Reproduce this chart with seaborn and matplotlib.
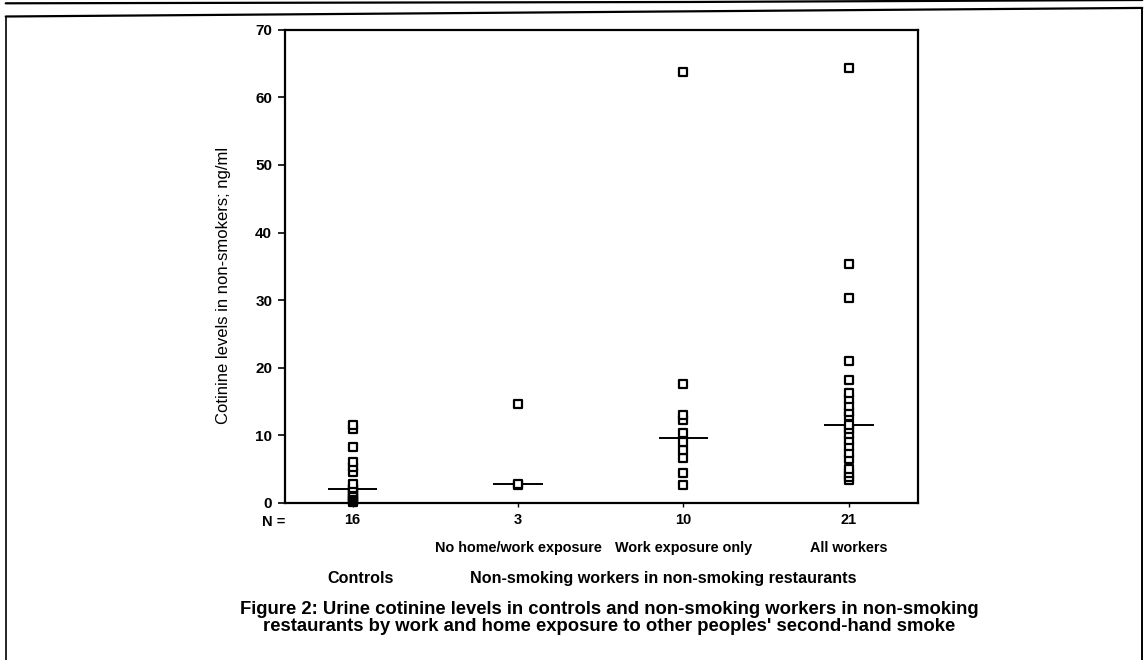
import numpy as np
import pandas as pd
import matplotlib
matplotlib.use("Agg")
import matplotlib.pyplot as plt
from matplotlib.lines import Line2D
import seaborn as sns

# ---- data ----
categories = ["Controls", "No home/work exposure", "Work exposure only", "All workers"]
controls = [0.1, 0.3, 0.5, 0.8, 1.0, 1.3, 1.6, 2.0, 2.2, 2.8, 4.6, 5.3, 6.0, 8.3, 11.0, 11.6]
no_home_work = [2.6, 2.8, 14.6]
work_only = [2.6, 4.4, 6.6, 7.8, 9.0, 10.3, 12.2, 13.0, 17.6, 63.8]
all_workers = [3.4, 3.9, 4.4, 5.0, 6.5, 7.4, 8.4, 9.3, 10.2, 11.0, 11.5, 12.8, 13.5,
               14.4, 15.3, 16.2, 18.2, 21.0, 30.3, 35.3, 64.3]
y_ticks = [0, 10, 20, 30, 40, 50, 60, 70]
y_label = "Cotinine levels in non-smokers; ng/ml"
group_labels = ["Controls", "Non-smoking workers in non-smoking restaurants"]
caption = ("Figure 2: Urine cotinine levels in controls and non-smoking workers in non-smoking\n"
           "restaurants by work and home exposure to other peoples' second-hand smoke")

series = [controls, no_home_work, work_only, all_workers]
df = pd.DataFrame({
    "group": np.concatenate([[c] * len(v) for c, v in zip(categories, series)]),
    "value": np.concatenate(series),
})
n_labels = [str(len(v)) for v in series]

sns.set_theme(style="white")
plt.rcParams["font.family"] = ["Liberation Sans", "DejaVu Sans"]
plt.rcParams["text.color"] = "black"
plt.rcParams["axes.labelcolor"] = "black"
plt.rcParams["xtick.color"] = "black"
plt.rcParams["ytick.color"] = "black"

fig = plt.figure(figsize=(11.48, 6.60), dpi=100)
ax = fig.add_axes([0.248, 0.238, 0.552, 0.717])

sns.boxplot(data=df, x="group", y="value", order=categories, width=0.3,
            showbox=False, showcaps=False, showfliers=False,
            whiskerprops={"visible": False},
            medianprops={"color": "black", "linewidth": 1.4}, ax=ax)
sns.stripplot(data=df, x="group", y="value", order=categories, jitter=False,
              marker="s", size=5.2, color="white", edgecolor="black",
              linewidth=1.6, ax=ax, clip_on=False, zorder=3)

ax.set_xlim(-0.41, 3.42)
ax.set_ylim(0, 70)
ax.set_yticks(y_ticks)
ax.set_yticklabels([str(t) for t in y_ticks], fontsize=11, fontweight="bold")
ax.set_xticks(range(len(categories)))
ax.set_xticklabels(n_labels, fontsize=10.5, fontweight="bold")
ax.tick_params(axis="y", direction="out", length=5, width=1.2, left=True, pad=4)
ax.tick_params(axis="x", direction="out", length=3, width=1, bottom=True, pad=4)
ax.set_xlabel("")
ax.set_ylabel(y_label, fontsize=12, fontweight="medium")
ax.yaxis.set_label_coords(-0.085, 0.46)
for s in ax.spines.values():
    s.set_visible(True)
    s.set_color("black")
    s.set_linewidth(1.6)

# row labels under the axis
fig.text(0.238, 0.209, "N =", ha="center", va="center", fontsize=10.5, fontweight="bold")
trans = ax.get_xaxis_transform()
for i, name in enumerate(categories[1:], start=1):
    ax.text(i, -0.095, name, transform=trans, ha="center", va="center",
            fontsize=10.4, fontweight="bold")
fig.text(0.3145, 0.124, group_labels[0], ha="center", va="center", fontsize=11.6, fontweight="bold")
fig.text(0.5775, 0.124, group_labels[1], ha="center", va="center", fontsize=11.6, fontweight="bold")
fig.text(0.531, 0.064, caption, ha="center", va="center", fontsize=13.3,
         fontweight="bold", linespacing=1.0)

# scanned-page frame lines
fig.add_artist(Line2D([0.005, 0.995], [0.975, 0.988], color="black", lw=1.6))
fig.add_artist(Line2D([0.005, 0.005], [0.975, 0.0], color="black", lw=1.2))
fig.add_artist(Line2D([0.995, 0.995], [0.988, 0.0], color="black", lw=1.4))
fig.add_artist(Line2D([0.005, 0.6, 0.995], [0.995, 0.997, 1.0], color="black", lw=1.6))

fig.savefig("out.png", dpi=100)
